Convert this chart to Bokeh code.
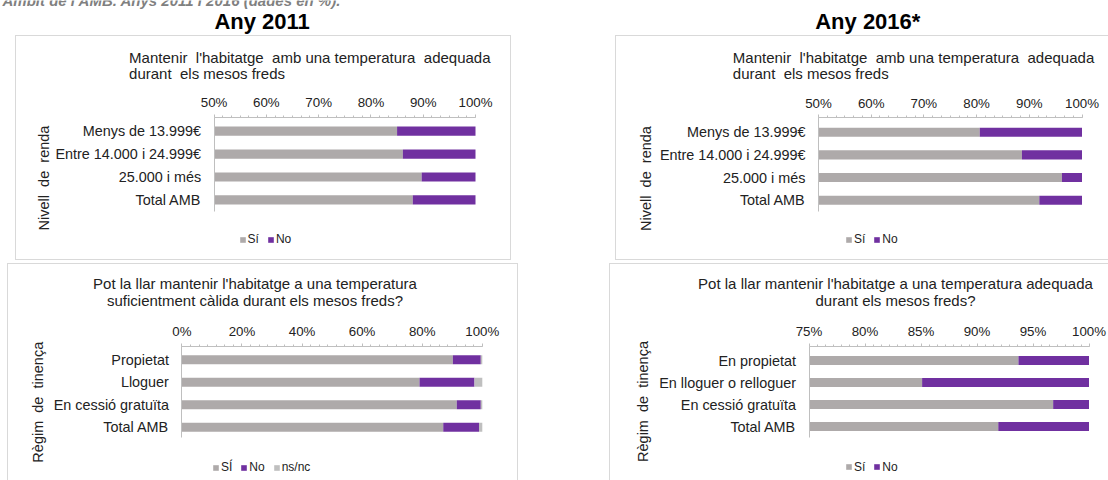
import math

from bokeh.embed import file_html
from bokeh.layouts import column, row
from bokeh.models import (ColumnDataSource, FixedTicker, Label, Legend, LegendItem,
                          LinearAxis, PrintfTickFormatter, Range1d,
                          SingleIntervalTicker, Spacer)
from bokeh.plotting import figure
from bokeh.resources import INLINE

# ---- data -----------------------------------------------------------------
renda_cats = ["Menys de 13.999€", "Entre 14.000 i 24.999€", "25.000 i més", "Total AMB"]
renda_si_2011 = [85.0, 86.1, 89.7, 88.0]
renda_no_2011 = [15.0, 13.9, 10.3, 12.0]
renda_si_2016 = [80.6, 88.6, 96.2, 91.9]
renda_no_2016 = [19.4, 11.4, 3.8, 8.1]

tinenca_cats_2011 = ["Propietat", "Lloguer", "En cessió gratuïta", "Total AMB"]
tinenca_si_2011 = [90.2, 79.1, 91.5, 87.0]
tinenca_no_2011 = [9.3, 18.3, 8.0, 11.9]
tinenca_nsnc_2011 = [0.5, 2.6, 0.5, 1.1]

tinenca_cats_2016 = ["En propietat", "En lloguer o relloguer", "En cessió gratuïta", "Total AMB"]
tinenca_si_2016 = [93.7, 85.1, 96.8, 91.9]
tinenca_no_2016 = [6.3, 14.9, 3.2, 8.1]

# ---- style ----------------------------------------------------------------
FONT = "Liberation Sans"
GRAY = "#aeaaaa"
PURPLE = "#7030a0"
NSNC = "#bfbfbf"
BORDER = "#d9d9d9"
AXIS = "#bfbfbf"
TEXT = "#222222"
NB = "\u00a0"


def box_shadow(sides):
    parts = {
        "left": "inset 1px 0 0 0 " + BORDER,
        "right": "inset -1px 0 0 0 " + BORDER,
        "top": "inset 0 1px 0 0 " + BORDER,
        "bottom": "inset 0 -1px 0 0 " + BORDER,
    }
    return ", ".join(parts[s] for s in sides)


def panel(ox, oy, w, h, ax0, ax1, top_y, bottom_y, c0, u, x_start, x_end, interval, minor,
          cats, series, labels, colors, title_lines, title_x, title_ys, title_align,
          ylabel, ylabel_xy, legend_xy, sides):
    """One boxed stacked-bar chart.  Layout arguments are page pixels."""
    n = len(cats)
    k = (x_end - x_start) / (ax1 - ax0)

    def xd(px):
        return x_start + (px - ax0) * k

    def yd(py):
        return (n - 1) - (py - c0) / u

    p = figure(width=w, height=h, title=None,
               x_range=Range1d(xd(ox), xd(ox + w)),
               y_range=Range1d(yd(oy + h), yd(oy)),
               x_axis_location=None, y_axis_location=None, min_border=0,
               toolbar_location=None, output_backend="svg")
    p.outline_line_color = None
    p.background_fill_color = None
    p.border_fill_color = None
    p.styles = {"box-shadow": box_shadow(sides)}
    for g in p.grid:
        g.visible = False

    ypos = [n - 1 - i for i in range(n)]

    # stacked bars, starting at the left end of the value axis
    renderers = []
    cum = [0.0] * n
    for vals, col in zip(series, colors):
        right = [c + v for c, v in zip(cum, vals)]
        left = [max(c, x_start) for c in cum]
        src = ColumnDataSource(dict(y=ypos, left=left, right=right))
        r = p.hbar(y="y", left="left", right="right", height=0.4, source=src,
                   fill_color=col, line_color=None)
        renderers.append(r)
        cum = right

    # value axis on top
    xa = LinearAxis(fixed_location=yd(top_y), bounds=(x_start, x_end),
                    ticker=SingleIntervalTicker(interval=interval, num_minor_ticks=minor),
                    formatter=PrintfTickFormatter(format="%d%%"))
    xa.axis_line_color = AXIS
    xa.major_tick_line_color = AXIS
    xa.minor_tick_line_color = AXIS
    xa.major_tick_in = 0
    xa.major_tick_out = 3
    xa.minor_tick_in = 0
    xa.minor_tick_out = 2
    xa.major_label_standoff = 4
    xa.major_label_text_font = FONT
    xa.major_label_text_font_size = "13.3px"
    xa.major_label_text_color = TEXT
    p.add_layout(xa, "above")

    # category axis
    ya = LinearAxis(fixed_location=x_start, bounds=(yd(bottom_y), yd(top_y)),
                    ticker=FixedTicker(ticks=ypos, minor_ticks=[]),
                    major_label_overrides={y: c for y, c in zip(ypos, cats)})
    ya.axis_line_color = AXIS
    ya.major_tick_line_color = None
    ya.minor_tick_line_color = None
    ya.major_label_standoff = 7
    ya.major_label_text_font = FONT
    ya.major_label_text_font_size = "14.4px"
    ya.major_label_text_color = TEXT
    p.add_layout(ya, "left")

    for line, ty in zip(title_lines, title_ys):
        p.add_layout(Label(x=xd(title_x), y=yd(ty), text=line, text_align=title_align,
                           text_baseline="middle", text_font=FONT, text_font_size="15px",
                           text_color=TEXT))

    p.add_layout(Label(x=xd(ylabel_xy[0]), y=yd(ylabel_xy[1]), text=ylabel, angle=math.pi / 2,
                       text_align="center", text_baseline="middle", text_font=FONT,
                       text_font_size="14.5px", text_color=TEXT))

    legend = Legend(items=[LegendItem(label=l, renderers=[r]) for l, r in zip(labels, renderers)],
                    location=(legend_xy[0] - ox, oy + h - legend_xy[1]),
                    orientation="horizontal", padding=0, margin=0, spacing=8,
                    glyph_width=7, glyph_height=7, label_standoff=2, label_height=12,
                    label_width=0,
                    border_line_color=None, background_fill_alpha=0,
                    label_text_font=FONT, label_text_font_size="12px",
                    label_text_color=TEXT)
    p.add_layout(legend)
    return p


# ---- header ---------------------------------------------------------------
header = figure(width=1108, height=35, title=None, x_range=Range1d(0, 1108), y_range=Range1d(35, 0),
                x_axis_location=None, y_axis_location=None, min_border=0,
                toolbar_location=None, output_backend="svg")
header.outline_line_color = None
header.background_fill_color = None
header.border_fill_color = None
for g in header.grid:
    g.visible = False
header.add_layout(Label(x=2, y=0, text="Àmbit de l'AMB. Anys 2011 i 2016 (dades en %).",
                        text_font=FONT, text_font_style="bold italic", text_font_size="15px",
                        text_color="#808080", text_baseline="middle"))
for txt, cx in (("Any 2011", 261.6), ("Any 2016*", 867.3)):
    header.add_layout(Label(x=cx, y=21, text=txt, text_font=FONT, text_font_style="bold",
                            text_font_size="22px", text_color="#000000",
                            text_align="center", text_baseline="middle"))

title_top = ["Mantenir" + NB + " l'habitatge" + NB + " amb una temperatura" + NB + " adequada",
             "durant" + NB + " els mesos freds"]
label_renda = "Nivell" + NB + " de" + NB + " renda"
label_tinenca = "Règim" + NB + " de" + NB + " tinença"

tl = panel(15, 35, 496, 225, 213.6, 475, 116.7, 210.7, 130.7, 22.9, 50, 100, 10, 6,
           renda_cats, [renda_si_2011, renda_no_2011], ["Sí", "No"], [GRAY, PURPLE],
           title_top, 128.6, [57.3, 73.3], "left",
           label_renda, (43.6, 177.5), (238.6, 246), ["left", "right", "top", "bottom"])

tr = panel(615, 35, 493, 225, 818, 1081.5, 117.3, 210.7, 131.7, 22.67, 50, 100, 10, 6,
           renda_cats, [renda_si_2016, renda_no_2016], ["Sí", "No"], [GRAY, PURPLE],
           title_top, 732.3, [57.3, 73.3], "left",
           label_renda, (645, 178), (845, 246), ["left", "top", "bottom"])

bl = panel(7, 263, 511, 217, 181.4, 481.8, 345.7, 436.7, 359.3, 22.45, 0, 100, 20, 7,
           tinenca_cats_2011, [tinenca_si_2011, tinenca_no_2011, tinenca_nsnc_2011],
           ["SÍ", "No", "ns/nc"], [GRAY, PURPLE, NSNC],
           ["Pot la llar mantenir l'habitatge a una temperatura",
            "suficientment càlida durant els mesos freds?"], 254.5, [283.3, 300], "center",
           label_tinenca, (37, 401.7), (212, 474), ["left", "right", "top"])

br = panel(609, 263, 499, 217, 808.5, 1088.5, 345.7, 436.7, 360, 22, 75, 100, 5, 7,
           tinenca_cats_2016, [tinenca_si_2016, tinenca_no_2016], ["Sí", "No"], [GRAY, PURPLE],
           ["Pot la llar mantenir l'habitatge a una temperatura adequada",
            "durant els mesos freds?"], 895, [283.3, 300], "center",
           label_tinenca, (642, 401), (845, 473.5), ["left", "top"])

layout = column(
    header,
    row(Spacer(width=15, height=225), tl, Spacer(width=104, height=225), tr),
    Spacer(width=1108, height=3),
    row(Spacer(width=7, height=217), bl, Spacer(width=91, height=217), br),
)

open("out.html", "w").write(file_html(layout, INLINE))
